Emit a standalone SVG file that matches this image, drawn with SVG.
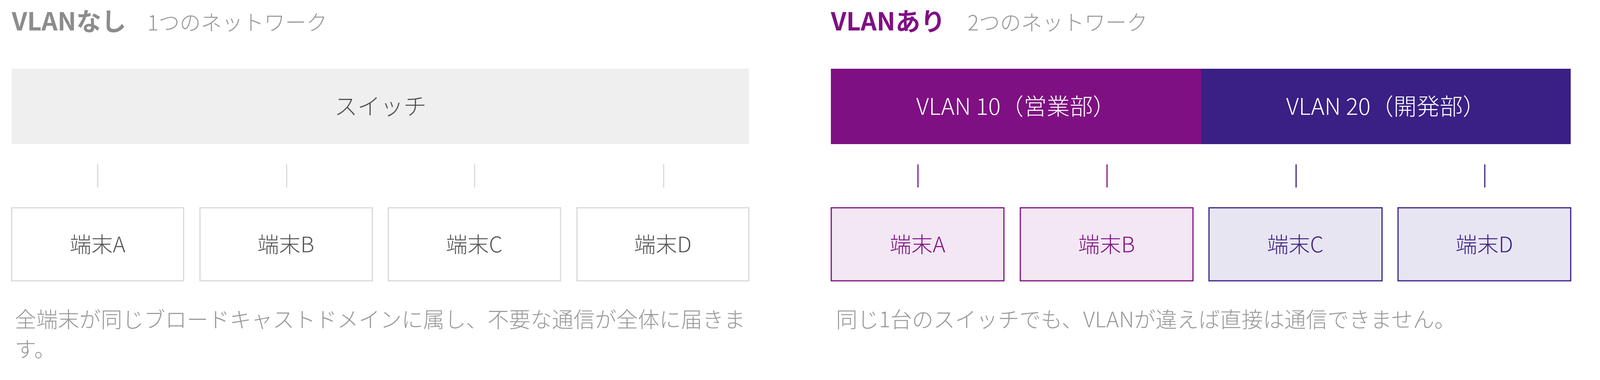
<svg xmlns="http://www.w3.org/2000/svg" width="4194" height="973" viewBox="0 0 4194 973">
<style>
text{font-family:"Noto Sans CJK JP","Liberation Sans",sans-serif;font-weight:300}
.t{font-size:64px;font-weight:bold}
.s{font-size:54px;fill:#999}
.c{font-size:55px;fill:#999}
.l{font-size:55px;text-anchor:middle}
.h{font-size:59px;text-anchor:middle}
.gb{fill:#fff;stroke:#d9d9d9;stroke-width:3}
.pb{fill:#f3e7f4;stroke:#7f1083;stroke-width:3}
.ib{fill:#e8e5f3;stroke:#3a1f85;stroke-width:3}
</style>
<rect width="4194" height="973" fill="#fff"/>
<text class="t" x="30" y="78" fill="#8c8c8c">VLANなし</text>
<text class="s" x="377" y="78">1つのネットワーク</text>
<text class="t" x="2127" y="78" fill="#7f1083">VLANあり</text>
<text class="s" x="2477" y="78">2つのネットワーク</text>
<g id="switch"><rect x="30" y="176" width="1887" height="193" fill="#efefef"/><text class="h" x="974" y="294" fill="#555">スイッチ</text></g>
<g id="vlan10"><rect x="2127" y="176" width="948" height="193" fill="#7f1083"/><text class="h" x="2601" y="294" fill="#fff">VLAN 10（営業部）</text></g>
<g id="vlan20"><rect x="3075" y="176" width="946" height="193" fill="#3a1f85"/><text class="h" x="3548" y="294" fill="#fff">VLAN 20（開発部）</text></g>
<g id="connectors" stroke-width="3">
<g stroke="#d9d9d9"><line x1="250" y1="421" x2="250" y2="480"/><line x1="734" y1="421" x2="734" y2="480"/><line x1="1215" y1="421" x2="1215" y2="480"/><line x1="1699" y1="421" x2="1699" y2="480"/></g>
<g stroke="#7f1083"><line x1="2350" y1="421" x2="2350" y2="480"/><line x1="2834" y1="421" x2="2834" y2="480"/></g>
<g stroke="#3a1f85"><line x1="3318" y1="421" x2="3318" y2="480"/><line x1="3801" y1="421" x2="3801" y2="480"/></g>
</g>
<g id="a1"><rect class="gb" x="30" y="532" width="440" height="187"/><text class="l" x="250" y="646" fill="#555">端末A</text></g>
<g id="b1"><rect class="gb" x="512" y="532" width="441" height="187"/><text class="l" x="732" y="646" fill="#555">端末B</text></g>
<g id="c1"><rect class="gb" x="994" y="532" width="441" height="187"/><text class="l" x="1214" y="646" fill="#555">端末C</text></g>
<g id="d1"><rect class="gb" x="1477" y="532" width="440" height="187"/><text class="l" x="1697" y="646" fill="#555">端末D</text></g>
<g id="a2"><rect class="pb" x="2128" y="532" width="442" height="187"/><text class="l" x="2349" y="646" fill="#7f1083">端末A</text></g>
<g id="b2"><rect class="pb" x="2612" y="532" width="442" height="187"/><text class="l" x="2833" y="646" fill="#7f1083">端末B</text></g>
<g id="c2"><rect class="ib" x="3095" y="532" width="443" height="187"/><text class="l" x="3316" y="646" fill="#3a1f85">端末C</text></g>
<g id="d2"><rect class="ib" x="3579" y="532" width="442" height="187"/><text class="l" x="3800" y="646" fill="#3a1f85">端末D</text></g>
<text class="c" x="38" y="838">全端末が同じブロードキャストドメインに属し、不要な通信が全体に届きま</text>
<text class="c" x="38" y="914">す。</text>
<text class="c" x="2140" y="838">同じ1台のスイッチでも、VLANが違えば直接は通信できません。</text>
</svg>
